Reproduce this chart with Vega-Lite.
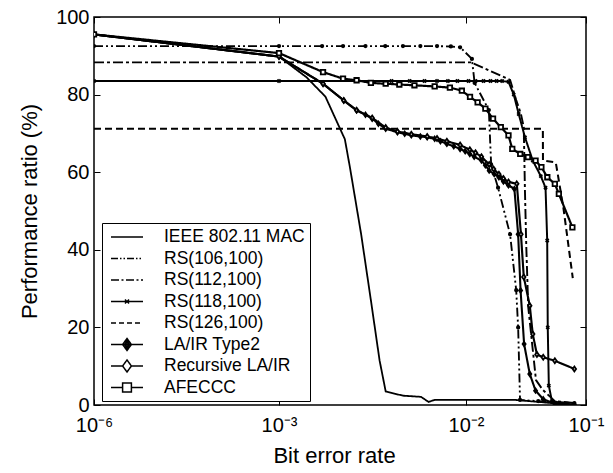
{
  "$schema": "https://vega.github.io/schema/vega-lite/v6.json",
  "width": 492,
  "height": 388,
  "autosize": {"type": "none"},
  "padding": {"left": 94, "top": 17, "right": 27, "bottom": 68},
  "background": "white",
  "config": {
    "font": "Liberation Sans",
    "view": {"stroke": "black", "strokeWidth": 1.5},
    "axis": {"labelColor": "black", "titleColor": "black", "tickColor": "black", "titleFontWeight": "normal", "grid": false, "domain": false}
  },
  "datasets": {
    "curves": [
      {"series": "IEEE 802.11 MAC", "ber": 1e-6, "perf": 95.5},
      {"series": "IEEE 802.11 MAC", "ber": 1e-3, "perf": 89.8},
      {"series": "IEEE 802.11 MAC", "ber": 0.0014, "perf": 84.5},
      {"series": "IEEE 802.11 MAC", "ber": 0.00177, "perf": 79.5},
      {"series": "IEEE 802.11 MAC", "ber": 0.00225, "perf": 68.5},
      {"series": "IEEE 802.11 MAC", "ber": 0.0024, "perf": 61},
      {"series": "IEEE 802.11 MAC", "ber": 0.00275, "perf": 44},
      {"series": "IEEE 802.11 MAC", "ber": 0.0031, "perf": 27},
      {"series": "IEEE 802.11 MAC", "ber": 0.00345, "perf": 11.5},
      {"series": "IEEE 802.11 MAC", "ber": 0.00372, "perf": 3.5},
      {"series": "IEEE 802.11 MAC", "ber": 0.0046, "perf": 2.4},
      {"series": "IEEE 802.11 MAC", "ber": 0.00575, "perf": 2.1},
      {"series": "IEEE 802.11 MAC", "ber": 0.0063, "perf": 0.8},
      {"series": "IEEE 802.11 MAC", "ber": 0.0068, "perf": 1.3},
      {"series": "IEEE 802.11 MAC", "ber": 0.01, "perf": 1.3},
      {"series": "IEEE 802.11 MAC", "ber": 0.026, "perf": 1.3},
      {"series": "IEEE 802.11 MAC", "ber": 0.04, "perf": 0.8},
      {"series": "IEEE 802.11 MAC", "ber": 0.08, "perf": 0},

      {"series": "RS(106,100)", "ber": 1e-6, "perf": 92.5},
      {"series": "RS(106,100)", "ber": 1e-3, "perf": 92.5},
      {"series": "RS(106,100)", "ber": 0.0017, "perf": 92.5},
      {"series": "RS(106,100)", "ber": 0.0022, "perf": 92.5},
      {"series": "RS(106,100)", "ber": 0.0029, "perf": 92.5},
      {"series": "RS(106,100)", "ber": 0.0037, "perf": 92.5},
      {"series": "RS(106,100)", "ber": 0.0046, "perf": 92.5},
      {"series": "RS(106,100)", "ber": 0.0057, "perf": 92.5},
      {"series": "RS(106,100)", "ber": 0.007, "perf": 92.5},
      {"series": "RS(106,100)", "ber": 0.0083, "perf": 92.4},
      {"series": "RS(106,100)", "ber": 0.0093, "perf": 92.2},
      {"series": "RS(106,100)", "ber": 0.0112, "perf": 89.2},
      {"series": "RS(106,100)", "ber": 0.0118, "perf": 83},
      {"series": "RS(106,100)", "ber": 0.0155, "perf": 76},
      {"series": "RS(106,100)", "ber": 0.0162, "perf": 62},
      {"series": "RS(106,100)", "ber": 0.0185, "perf": 56},
      {"series": "RS(106,100)", "ber": 0.0233, "perf": 44},
      {"series": "RS(106,100)", "ber": 0.0262, "perf": 29.6},
      {"series": "RS(106,100)", "ber": 0.0272, "perf": 20},
      {"series": "RS(106,100)", "ber": 0.0282, "perf": 1.3},
      {"series": "RS(106,100)", "ber": 0.04, "perf": 1},
      {"series": "RS(106,100)", "ber": 0.08, "perf": 0.5},

      {"series": "RS(112,100)", "ber": 1e-6, "perf": 88.3},
      {"series": "RS(112,100)", "ber": 1e-3, "perf": 88.3},
      {"series": "RS(112,100)", "ber": 0.011, "perf": 88.3},
      {"series": "RS(112,100)", "ber": 0.0233, "perf": 83.8},
      {"series": "RS(112,100)", "ber": 0.0262, "perf": 78.6},
      {"series": "RS(112,100)", "ber": 0.0287, "perf": 75},
      {"series": "RS(112,100)", "ber": 0.0303, "perf": 71.6},
      {"series": "RS(112,100)", "ber": 0.031, "perf": 55},
      {"series": "RS(112,100)", "ber": 0.0318, "perf": 40.8},
      {"series": "RS(112,100)", "ber": 0.033, "perf": 25.3},
      {"series": "RS(112,100)", "ber": 0.0383, "perf": 6.4},
      {"series": "RS(112,100)", "ber": 0.0436, "perf": 3.9},
      {"series": "RS(112,100)", "ber": 0.055, "perf": 1},
      {"series": "RS(112,100)", "ber": 0.08, "perf": 0.5},

      {"series": "RS(118,100)", "ber": 1e-6, "perf": 83.5},
      {"series": "RS(118,100)", "ber": 1e-3, "perf": 83.5},
      {"series": "RS(118,100)", "ber": 0.004, "perf": 83.5},
      {"series": "RS(118,100)", "ber": 0.005, "perf": 83.5},
      {"series": "RS(118,100)", "ber": 0.006, "perf": 83.5},
      {"series": "RS(118,100)", "ber": 0.007, "perf": 83.5},
      {"series": "RS(118,100)", "ber": 0.008, "perf": 83.5},
      {"series": "RS(118,100)", "ber": 0.009, "perf": 83.5},
      {"series": "RS(118,100)", "ber": 0.0105, "perf": 83.5},
      {"series": "RS(118,100)", "ber": 0.012, "perf": 83.5},
      {"series": "RS(118,100)", "ber": 0.014, "perf": 83.5},
      {"series": "RS(118,100)", "ber": 0.016, "perf": 83.5},
      {"series": "RS(118,100)", "ber": 0.018, "perf": 83.5},
      {"series": "RS(118,100)", "ber": 0.02, "perf": 83.5},
      {"series": "RS(118,100)", "ber": 0.0226, "perf": 83.3},
      {"series": "RS(118,100)", "ber": 0.025, "perf": 80},
      {"series": "RS(118,100)", "ber": 0.0275, "perf": 75},
      {"series": "RS(118,100)", "ber": 0.031, "perf": 69},
      {"series": "RS(118,100)", "ber": 0.036, "perf": 63},
      {"series": "RS(118,100)", "ber": 0.042, "perf": 59},
      {"series": "RS(118,100)", "ber": 0.046, "perf": 56},
      {"series": "RS(118,100)", "ber": 0.0475, "perf": 42.4},
      {"series": "RS(118,100)", "ber": 0.048, "perf": 20},
      {"series": "RS(118,100)", "ber": 0.049, "perf": 5},
      {"series": "RS(118,100)", "ber": 0.052, "perf": 1},
      {"series": "RS(118,100)", "ber": 0.08, "perf": 0},

      {"series": "RS(126,100)", "ber": 1e-6, "perf": 71.2},
      {"series": "RS(126,100)", "ber": 1e-3, "perf": 71.2},
      {"series": "RS(126,100)", "ber": 0.0437, "perf": 71.2},
      {"series": "RS(126,100)", "ber": 0.0438, "perf": 63},
      {"series": "RS(126,100)", "ber": 0.056, "perf": 62.5},
      {"series": "RS(126,100)", "ber": 0.0647, "perf": 51},
      {"series": "RS(126,100)", "ber": 0.0776, "perf": 32.7},

      {"series": "LA/IR Type2", "ber": 1e-6, "perf": 95.5},
      {"series": "LA/IR Type2", "ber": 1e-3, "perf": 89.8},
      {"series": "LA/IR Type2", "ber": 0.00172, "perf": 82.8},
      {"series": "LA/IR Type2", "ber": 0.00222, "perf": 78.5},
      {"series": "LA/IR Type2", "ber": 0.0026, "perf": 75.9},
      {"series": "LA/IR Type2", "ber": 0.0029, "perf": 74.8},
      {"series": "LA/IR Type2", "ber": 0.00315, "perf": 73.8},
      {"series": "LA/IR Type2", "ber": 0.0034, "perf": 72.5},
      {"series": "LA/IR Type2", "ber": 0.00372, "perf": 71.2},
      {"series": "LA/IR Type2", "ber": 0.0043, "perf": 70.3},
      {"series": "LA/IR Type2", "ber": 0.0047, "perf": 69.9},
      {"series": "LA/IR Type2", "ber": 0.0051, "perf": 69.5},
      {"series": "LA/IR Type2", "ber": 0.0057, "perf": 69.2},
      {"series": "LA/IR Type2", "ber": 0.0062, "perf": 69},
      {"series": "LA/IR Type2", "ber": 0.0068, "perf": 68.6},
      {"series": "LA/IR Type2", "ber": 0.0073, "perf": 68},
      {"series": "LA/IR Type2", "ber": 0.0079, "perf": 67.3},
      {"series": "LA/IR Type2", "ber": 0.0086, "perf": 66.7},
      {"series": "LA/IR Type2", "ber": 0.0093, "perf": 66},
      {"series": "LA/IR Type2", "ber": 0.0099, "perf": 65.4},
      {"series": "LA/IR Type2", "ber": 0.01076, "perf": 64.7},
      {"series": "LA/IR Type2", "ber": 0.0117, "perf": 64},
      {"series": "LA/IR Type2", "ber": 0.01345, "perf": 63},
      {"series": "LA/IR Type2", "ber": 0.0145, "perf": 61.8},
      {"series": "LA/IR Type2", "ber": 0.0156, "perf": 60.4},
      {"series": "LA/IR Type2", "ber": 0.0172, "perf": 59.5},
      {"series": "LA/IR Type2", "ber": 0.0188, "perf": 58.7},
      {"series": "LA/IR Type2", "ber": 0.0205, "perf": 57.6},
      {"series": "LA/IR Type2", "ber": 0.0226, "perf": 56.6},
      {"series": "LA/IR Type2", "ber": 0.0253, "perf": 55.7},
      {"series": "LA/IR Type2", "ber": 0.0272, "perf": 44},
      {"series": "LA/IR Type2", "ber": 0.0285, "perf": 29.5},
      {"series": "LA/IR Type2", "ber": 0.0305, "perf": 15.7},
      {"series": "LA/IR Type2", "ber": 0.034, "perf": 8},
      {"series": "LA/IR Type2", "ber": 0.038, "perf": 3.7},
      {"series": "LA/IR Type2", "ber": 0.044, "perf": 1.5},
      {"series": "LA/IR Type2", "ber": 0.055, "perf": 0.3},
      {"series": "LA/IR Type2", "ber": 0.08, "perf": 0},

      {"series": "Recursive LA/IR", "ber": 1e-6, "perf": 95.5},
      {"series": "Recursive LA/IR", "ber": 1e-3, "perf": 89.8},
      {"series": "Recursive LA/IR", "ber": 0.00172, "perf": 82.8},
      {"series": "Recursive LA/IR", "ber": 0.00222, "perf": 78.5},
      {"series": "Recursive LA/IR", "ber": 0.0026, "perf": 76},
      {"series": "Recursive LA/IR", "ber": 0.00315, "perf": 74},
      {"series": "Recursive LA/IR", "ber": 0.00372, "perf": 71.5},
      {"series": "Recursive LA/IR", "ber": 0.0043, "perf": 70.5},
      {"series": "Recursive LA/IR", "ber": 0.0051, "perf": 69.8},
      {"series": "Recursive LA/IR", "ber": 0.0062, "perf": 69.2},
      {"series": "Recursive LA/IR", "ber": 0.007, "perf": 68.7},
      {"series": "Recursive LA/IR", "ber": 0.0079, "perf": 68},
      {"series": "Recursive LA/IR", "ber": 0.0093, "perf": 67},
      {"series": "Recursive LA/IR", "ber": 0.01076, "perf": 65.8},
      {"series": "Recursive LA/IR", "ber": 0.012, "perf": 65},
      {"series": "Recursive LA/IR", "ber": 0.01345, "perf": 64},
      {"series": "Recursive LA/IR", "ber": 0.0156, "perf": 62},
      {"series": "Recursive LA/IR", "ber": 0.017, "perf": 60.8},
      {"series": "Recursive LA/IR", "ber": 0.0188, "perf": 59.5},
      {"series": "Recursive LA/IR", "ber": 0.0205, "perf": 58.4},
      {"series": "Recursive LA/IR", "ber": 0.0226, "perf": 57.5},
      {"series": "Recursive LA/IR", "ber": 0.0265, "perf": 57},
      {"series": "Recursive LA/IR", "ber": 0.0287, "perf": 44},
      {"series": "Recursive LA/IR", "ber": 0.0303, "perf": 33},
      {"series": "Recursive LA/IR", "ber": 0.034, "perf": 25.6},
      {"series": "Recursive LA/IR", "ber": 0.036, "perf": 18.3},
      {"series": "Recursive LA/IR", "ber": 0.039, "perf": 13},
      {"series": "Recursive LA/IR", "ber": 0.044, "perf": 12.3},
      {"series": "Recursive LA/IR", "ber": 0.055, "perf": 11.4},
      {"series": "Recursive LA/IR", "ber": 0.08, "perf": 9.3},

      {"series": "AFECCC", "ber": 1e-6, "perf": 95.5},
      {"series": "AFECCC", "ber": 1e-3, "perf": 90.7},
      {"series": "AFECCC", "ber": 0.00172, "perf": 85.8},
      {"series": "AFECCC", "ber": 0.0022, "perf": 84.1},
      {"series": "AFECCC", "ber": 0.0026, "perf": 83.7},
      {"series": "AFECCC", "ber": 0.0031, "perf": 83},
      {"series": "AFECCC", "ber": 0.00372, "perf": 82.8},
      {"series": "AFECCC", "ber": 0.0044, "perf": 82.6},
      {"series": "AFECCC", "ber": 0.0053, "perf": 82.4},
      {"series": "AFECCC", "ber": 0.0068, "perf": 82.1},
      {"series": "AFECCC", "ber": 0.0082, "perf": 81.8},
      {"series": "AFECCC", "ber": 0.0095, "perf": 81},
      {"series": "AFECCC", "ber": 0.0108, "perf": 79.4},
      {"series": "AFECCC", "ber": 0.0125, "perf": 78},
      {"series": "AFECCC", "ber": 0.0145, "perf": 76.4},
      {"series": "AFECCC", "ber": 0.0168, "perf": 73.8},
      {"series": "AFECCC", "ber": 0.0195, "perf": 71.6},
      {"series": "AFECCC", "ber": 0.0226, "perf": 69.5},
      {"series": "AFECCC", "ber": 0.0243, "perf": 66},
      {"series": "AFECCC", "ber": 0.0283, "perf": 64.7},
      {"series": "AFECCC", "ber": 0.0328, "perf": 63.9},
      {"series": "AFECCC", "ber": 0.038, "perf": 63},
      {"series": "AFECCC", "ber": 0.0425, "perf": 61.3},
      {"series": "AFECCC", "ber": 0.0476, "perf": 58.7},
      {"series": "AFECCC", "ber": 0.055, "perf": 57},
      {"series": "AFECCC", "ber": 0.0594, "perf": 54.4},
      {"series": "AFECCC", "ber": 0.077, "perf": 45.8}
    ],
    "names": [
      {"series": "IEEE 802.11 MAC"},
      {"series": "RS(106,100)"},
      {"series": "RS(112,100)"},
      {"series": "RS(118,100)"},
      {"series": "RS(126,100)"},
      {"series": "LA/IR Type2"},
      {"series": "Recursive LA/IR"},
      {"series": "AFECCC"}
    ]
  },
  "layer": [
    {
      "data": {"name": "curves"},
      "mark": {"type": "line", "color": "black", "clip": true},
      "encoding": {
        "x": {
          "field": "ber", "type": "quantitative",
          "scale": {"type": "log", "domain": [1e-6, 1e-3, 1e-2, 1e-1], "range": [0, 185, 372, 492], "nice": false},
          "axis": {
            "orient": "bottom", "values": [1e-6, 1e-3, 1e-2, 1e-1],
            "labelExpr": "datum.value < 2e-6 ? '10⁻⁶' : datum.value < 2e-3 ? '10⁻³' : datum.value < 2e-2 ? '10⁻²' : '10⁻¹'",
            "labelFontSize": 20, "labelPadding": 16, "tickSize": -6, "labelFlush": false, "labelOverlap": false,
            "title": "Bit error rate", "titleFontSize": 22, "titlePadding": 10, "titleX": 240
          }
        },
        "y": {
          "field": "perf", "type": "quantitative",
          "scale": {"domain": [0, 100], "nice": false},
          "axis": {
            "orient": "left", "values": [0, 20, 40, 60, 80, 100],
            "labelFontSize": 20, "labelPadding": 11, "tickSize": -6,
            "title": "Performance ratio (%)", "titleFontSize": 22, "titlePadding": 14
          }
        },
        "detail": {"field": "series"},
        "strokeDash": {
          "field": "series", "type": "nominal", "legend": null,
          "scale": {
            "domain": ["IEEE 802.11 MAC", "RS(106,100)", "RS(112,100)", "RS(118,100)", "RS(126,100)", "LA/IR Type2", "Recursive LA/IR", "AFECCC"],
            "range": [[1, 0], [9, 3, 2, 3, 2, 3], [10, 3, 3, 3], [1, 0], [7, 4], [1, 0], [1, 0], [1, 0]]
          }
        },
        "strokeWidth": {
          "field": "series", "type": "nominal", "legend": null,
          "scale": {
            "domain": ["IEEE 802.11 MAC", "RS(106,100)", "RS(112,100)", "RS(118,100)", "RS(126,100)", "LA/IR Type2", "Recursive LA/IR", "AFECCC"],
            "range": [1.8, 2.2, 2.2, 2.4, 2.2, 2.6, 2.6, 2.6]
          }
        }
      }
    },
    {
      "data": {"name": "curves"},
      "transform": [{"filter": {"field": "series", "oneOf": ["RS(106,100)", "RS(118,100)", "LA/IR Type2", "Recursive LA/IR", "AFECCC"]}}],
      "mark": {"type": "point", "filled": true, "stroke": "black", "strokeWidth": 1.8, "opacity": 1, "clip": true},
      "encoding": {
        "x": {
          "field": "ber", "type": "quantitative",
          "axis": {"orient": "top", "values": [1e-6, 1e-3, 1e-2, 1e-1], "labels": false, "tickSize": -6, "title": null}
        },
        "y": {
          "field": "perf", "type": "quantitative",
          "axis": {"orient": "right", "values": [0, 20, 40, 60, 80, 100], "labels": false, "tickSize": -6, "title": null}
        },
        "shape": {
          "field": "series", "type": "nominal", "legend": null,
          "scale": {
            "domain": ["RS(106,100)", "RS(118,100)", "LA/IR Type2", "Recursive LA/IR", "AFECCC"],
            "range": ["circle", "M-1,-1L1,1M-1,1L1,-1", "M0,-1.2L0.85,0L0,1.2L-0.85,0Z", "M0,-1.2L0.85,0L0,1.2L-0.85,0Z", "square"]
          }
        },
        "size": {
          "field": "series", "type": "nominal", "legend": null,
          "scale": {
            "domain": ["RS(106,100)", "RS(118,100)", "LA/IR Type2", "Recursive LA/IR", "AFECCC"],
            "range": [6, 20, 90, 90, 110]
          }
        },
        "fill": {
          "field": "series", "type": "nominal", "legend": null,
          "scale": {
            "domain": ["RS(106,100)", "RS(118,100)", "LA/IR Type2", "Recursive LA/IR", "AFECCC"],
            "range": ["black", "transparent", "black", "white", "white"]
          }
        }
      }
    },
    {
      "data": {"name": "names"},
      "mark": {"type": "point", "filled": false, "opacity": 0, "stroke": "black"},
      "encoding": {
        "shape": {
          "field": "series", "type": "nominal",
          "scale": {
            "domain": ["IEEE 802.11 MAC", "RS(106,100)", "RS(112,100)", "RS(118,100)", "RS(126,100)", "LA/IR Type2", "Recursive LA/IR", "AFECCC"],
            "range": ["M-2,0H2", "M-2,0H2", "M-2,0H2", "M-2,0H2M-0.25,-0.25L0.25,0.25M-0.25,0.25L0.25,-0.25", "M-2,0H2", "M-2,0H2M0,-0.75L0.55,0L0,0.75L-0.55,0ZM0,-0.45L0.3,0L0,0.45L-0.3,0ZM0,-0.75V0.75", "M-2,0H-0.55M0.55,0H2M0,-0.75L0.55,0L0,0.75L-0.55,0Z", "M-2,0H-0.55M0.55,0H2M-0.55,-0.55H0.55V0.55H-0.55Z"]
          },
          "legend": {
            "orient": "none", "legendX": 8, "legendY": 206, "title": null,
            "labelFontSize": 17.5, "labelFont": "Liberation Sans", "labelColor": "black", "labelLimit": 400,
            "strokeColor": "black", "fillColor": "white", "padding": 5, "rowPadding": 3.5,
            "symbolSize": 256, "symbolOffset": 11, "labelOffset": 28,
            "encode": {"symbols": {"update": {
              "stroke": {"value": "black"}, "strokeWidth": {"value": 2}, "opacity": {"value": 1},
              "fill": {"signal": "datum.value === 'LA/IR Type2' ? 'black' : (datum.value === 'Recursive LA/IR' || datum.value === 'AFECCC') ? 'white' : 'transparent'"}
            }}}
          }
        },
        "strokeDash": {
          "field": "series", "type": "nominal",
          "scale": {
            "domain": ["IEEE 802.11 MAC", "RS(106,100)", "RS(112,100)", "RS(118,100)", "RS(126,100)", "LA/IR Type2", "Recursive LA/IR", "AFECCC"],
            "range": [[1, 0], [7, 2, 1.5, 2, 1.5, 2], [8, 2.5, 2, 2.5], [1, 0], [5, 3], [1, 0], [1, 0], [1, 0]]
          },
          "legend": {
            "orient": "none", "legendX": 8, "legendY": 206, "title": null,
            "labelFontSize": 17.5, "labelFont": "Liberation Sans", "labelColor": "black", "labelLimit": 400,
            "strokeColor": "black", "fillColor": "white", "padding": 5, "rowPadding": 3.5,
            "symbolSize": 256, "symbolOffset": 11, "labelOffset": 28,
            "encode": {"symbols": {"update": {
              "stroke": {"value": "black"}, "strokeWidth": {"value": 2}, "opacity": {"value": 1},
              "fill": {"signal": "datum.value === 'LA/IR Type2' ? 'black' : (datum.value === 'Recursive LA/IR' || datum.value === 'AFECCC') ? 'white' : 'transparent'"}
            }}}
          }
        }
      }
    }
  ],
  "resolve": {
    "scale": {"shape": "independent", "fill": "independent", "strokeDash": "independent", "size": "independent", "strokeWidth": "independent"},
    "axis": {"x": "independent", "y": "independent"}
  }
}
